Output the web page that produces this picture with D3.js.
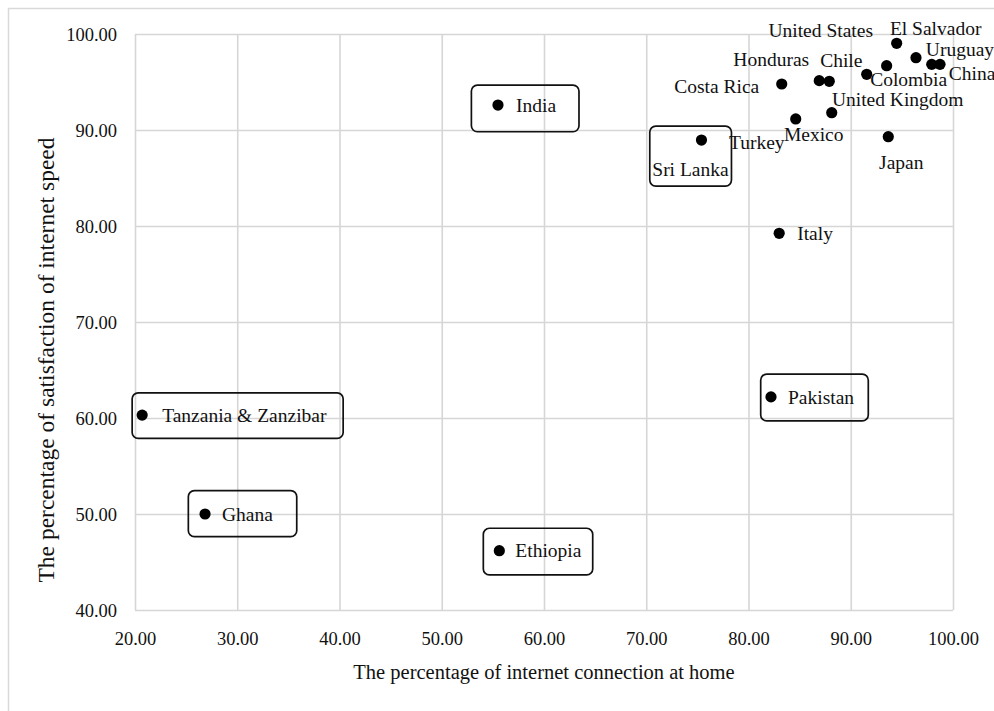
<!DOCTYPE html>
<html>
<head>
<meta charset="utf-8">
<script src="https://cdn.jsdelivr.net/npm/d3@7"></script>
<style>
  html, body { margin: 0; padding: 0; background: #fff; }
  svg { display: block; }
  text { font-family: "Liberation Serif", "Times New Roman", serif; fill: #111; }
</style>
</head>
<body>
<div id="chart"></div>
<script>
// Countries and their survey results
const countries = ["Tanzania & Zanzibar", "Ghana", "Ethiopia", "India", "Sri Lanka", "Italy", "Pakistan",
  "Costa Rica", "Honduras", "Chile", "Turkey", "Mexico", "United Kingdom", "Colombia",
  "El Salvador", "Uruguay", "United States", "China", "Japan"];
// % with an internet connection at home
const homeConnection = [20.7, 26.85, 55.63, 55.5, 75.4, 83.0, 82.2,
  83.25, 86.92, 87.9, 84.62, 88.14, 91.56, 93.51,
  94.49, 96.38, 97.92, 98.73, 93.67];
// % satisfied with internet speed
const speedSatisfaction = [60.3, 50.0, 46.18, 92.6, 88.95, 79.24, 62.2,
  94.79, 95.14, 95.07, 91.15, 91.8, 95.8, 96.7,
  99.03, 97.53, 96.84, 96.84, 89.3];
const xTicks = [20, 30, 40, 50, 60, 70, 80, 90, 100];
const yTicks = [40, 50, 60, 70, 80, 90, 100];

// Label placement per country: [dx, dy, anchor] relative to the dot
const labelPlacement = {
  "Tanzania & Zanzibar": [20, 0, "start"],
  "Ghana": [17, 0, "start"],
  "Ethiopia": [16, 0, "start"],
  "India": [18, 0, "start"],
  "Sri Lanka": [-11, 29, "middle"],
  "Italy": [18, 0, "start"],
  "Pakistan": [17, 0, "start"],
  "Costa Rica": [-65, 2, "middle"],
  "Honduras": [-48, -21, "middle"],
  "Chile": [12, -21, "middle"],
  "Turkey": [-39, 23, "middle"],
  "Mexico": [-18, 21, "middle"],
  "United Kingdom": [31, 25, "middle"],
  "Colombia": [22, 13, "middle"],
  "El Salvador": [39, -15, "middle"],
  "Uruguay": [44, -9, "middle"],
  "United States": [-111, -34, "middle"],
  "China": [32, 9, "middle"],
  "Japan": [13, 25, "middle"]
};
// Callout boxes: [x, y, width, height] relative to the dot
const callouts = {
  "India": [-26.6, -20, 107.6, 46.7],
  "Ghana": [-16.7, -23.3, 108.4, 46],
  "Pakistan": [-10.3, -22.7, 107.6, 46.7],
  "Tanzania & Zanzibar": [-10, -22.3, 211, 45.6],
  "Ethiopia": [-16, -22.4, 109.4, 46.7],
  "Sri Lanka": [-51.7, -14, 81.7, 60]
};

const W = 994, H = 711;
const margin = { left: 135, right: 41, top: 34, bottom: 101 };
const innerW = W - margin.left - margin.right;
const innerH = H - margin.top - margin.bottom;

const svg = d3.select("#chart").append("svg")
  .attr("width", W).attr("height", H);

// Outer chart frame
svg.append("rect")
  .attr("x", 8.5).attr("y", 8.5)
  .attr("width", W + 20).attr("height", H + 20)
  .attr("fill", "none").attr("stroke", "#d9d9d9").attr("stroke-width", 1.5);

const x = d3.scaleLinear().domain([20, 100]).range([0, innerW]);
const y = d3.scaleLinear().domain([40, 100]).range([innerH, 0]);

const g = svg.append("g").attr("transform", `translate(${margin.left},${margin.top})`);
const fmt = d3.format(".2f");

// Gridlines + tick labels
const xAxis = g.append("g")
  .attr("transform", `translate(0,${innerH})`)
  .call(d3.axisBottom(x).tickValues(xTicks).tickFormat(fmt).tickSize(-innerH).tickPadding(22));
const yAxis = g.append("g")
  .call(d3.axisLeft(y).tickValues(yTicks).tickFormat(fmt).tickSize(-innerW).tickPadding(18));

[xAxis, yAxis].forEach(ax => {
  ax.select(".domain").remove();
  ax.selectAll(".tick line").attr("stroke", "#d6d6d6").attr("stroke-width", 1.6);
  ax.selectAll(".tick text")
    .attr("fill", "#111")
    .style("font-family", "'Liberation Serif', 'Times New Roman', serif")
    .style("font-size", "18.5px");
});
yAxis.selectAll(".tick text").attr("dy", "0.34em");

// Axis titles
svg.append("text")
  .attr("x", margin.left + innerW / 2).attr("y", 672)
  .attr("dy", "0.35em")
  .attr("text-anchor", "middle")
  .style("font-size", "20.5px")
  .text("The percentage of internet connection at home");

svg.append("text")
  .attr("transform", "translate(46,360) rotate(-90)")
  .attr("dy", "0.35em")
  .attr("text-anchor", "middle")
  .style("font-size", "23.5px")
  .text("The percentage of satisfaction of internet speed");

const points = countries.map((c, i) => ({
  name: c, cx: x(homeConnection[i]), cy: y(speedSatisfaction[i])
}));

// Callout boxes
g.selectAll("rect.callout")
  .data(points.filter(p => callouts[p.name]))
  .join("rect")
  .attr("class", "callout")
  .attr("x", p => p.cx + callouts[p.name][0])
  .attr("y", p => p.cy + callouts[p.name][1])
  .attr("width", p => callouts[p.name][2])
  .attr("height", p => callouts[p.name][3])
  .attr("rx", 6).attr("ry", 6)
  .attr("fill", "none")
  .attr("stroke", "#111")
  .attr("stroke-width", 1.7);

// Dots
g.selectAll("circle.dot")
  .data(points)
  .join("circle")
  .attr("class", "dot")
  .attr("cx", p => p.cx)
  .attr("cy", p => p.cy)
  .attr("r", 5.6)
  .attr("fill", "#000");

// Country labels
g.selectAll("text.label")
  .data(points)
  .join("text")
  .attr("class", "label")
  .attr("x", p => p.cx + labelPlacement[p.name][0])
  .attr("y", p => p.cy + labelPlacement[p.name][1])
  .attr("dy", "0.35em")
  .attr("text-anchor", p => labelPlacement[p.name][2])
  .style("font-size", "19.5px")
  .text(p => p.name);
</script>
</body>
</html>
